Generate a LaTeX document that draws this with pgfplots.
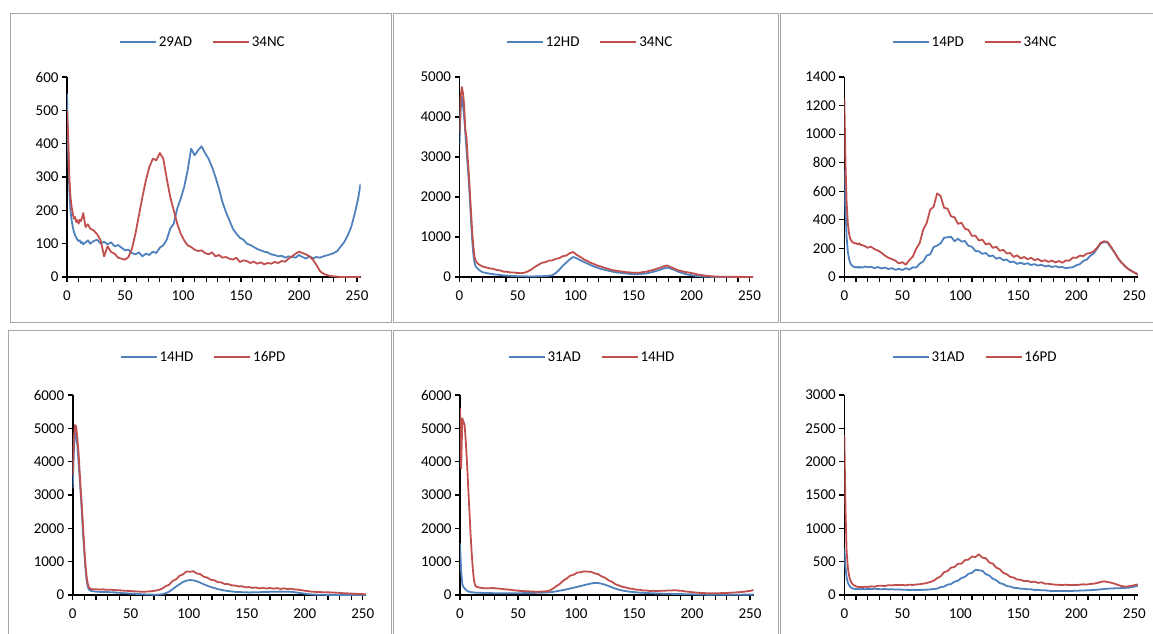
\documentclass[border=0pt]{standalone}
\usepackage{fontspec}
\setmainfont{Carlito}
\usepackage{pgfplots}
\usepackage{pgfplotstable}
\pgfplotsset{compat=1.18}

\definecolor{cblue}{HTML}{4F81BD}
\definecolor{cred}{HTML}{C0504D}
\definecolor{frame}{HTML}{A6A6A6}

% panel 1: 29AD (a) vs 34NC (b)
\pgfplotstableread{
x a b
0 550 500
1 380 420
2 260 300
3 200 240
4 170 210
5 150 190
6 135 175
7 125 180
8 118 165
9 112 170
10 108 160
11 110 172
12 102 168
13 105 178
14 98 192
16 104 150
18 110 158
20 100 145
23 108 140
26 112 128
29 100 110
32 106 62
35 98 92
38 104 75
41 92 70
44 96 58
47 88 55
50 80 52
53 82 60
56 72 85
59 68 130
62 74 185
65 62 240
68 70 290
71 66 330
74 76 355
77 72 350
80 88 372
83 95 355
86 112 295
89 145 240
92 160 200
95 205 160
98 235 130
101 270 110
104 320 95
107 385 90
110 365 82
113 380 78
116 392 80
119 372 72
122 355 68
125 330 74
128 300 62
131 265 66
134 225 58
137 195 60
140 170 55
143 145 52
146 130 58
149 118 45
152 112 50
155 100 48
158 96 42
161 90 46
164 84 40
167 80 44
170 76 38
173 74 42
176 68 40
179 66 45
182 62 42
185 64 48
188 58 46
191 62 55
194 60 62
197 58 70
200 66 76
203 60 72
206 55 68
209 62 62
212 56 52
215 60 36
218 58 18
221 62 10
224 65 6
227 68 3
230 72 2
233 78 1
236 92 0
239 105 0
242 125 0
245 150 0
248 190 0
251 235 0
253 280 0
}\pone

% panel 2: 12HD (a) vs 34NC (b)
\pgfplotstableread{
x a b
0 3300 3600
1 4200 4500
2 4500 4750
3 4300 4600
4 4000 4300
5 3600 3700
6 3200 3500
7 2800 3000
8 2400 2600
9 1900 2100
10 1400 1600
11 900 1100
12 550 750
13 350 500
14 260 400
16 200 330
18 150 290
20 120 260
23 100 240
26 85 215
29 70 205
32 60 175
35 50 165
38 40 135
41 35 130
44 30 115
47 25 112
50 20 98
53 20 96
56 18 108
59 15 142
62 15 188
65 15 252
68 18 305
71 20 355
74 25 372
77 30 410
80 45 415
83 100 455
86 180 470
89 280 520
92 360 535
95 440 595
98 500 625
101 470 555
104 420 505
107 380 445
110 340 405
113 300 355
116 260 325
119 230 285
122 200 262
125 180 228
128 160 205
131 140 178
134 120 162
137 110 148
140 100 137
143 90 122
146 80 117
149 75 108
152 70 106
155 75 108
158 80 122
161 90 133
164 110 157
167 130 178
170 155 207
173 180 232
176 215 268
179 235 290
182 210 248
185 180 212
188 140 172
191 110 152
194 80 128
197 60 117
200 45 98
203 30 82
206 20 58
209 12 47
212 8 33
215 5 26
218 3 17
221 2 12
224 1 8
227 1 6
230 0 5
233 0 4
236 0 4
239 0 3
242 0 3
245 0 3
248 0 2
251 0 2
253 0 2
}\ptwo

% panel 3: 14PD (a) vs 34NC (b)
\pgfplotstableread{
x a b
0 750 1250
1 480 800
2 280 520
3 180 380
4 130 310
5 100 270
6 85 255
7 78 245
8 72 240
9 68 235
10 70 238
11 66 232
12 72 228
13 64 236
14 70 225
16 66 222
18 74 215
20 68 205
23 72 212
26 62 195
29 70 185
32 60 170
35 66 150
38 56 135
41 62 125
44 50 115
47 58 95
50 48 104
53 62 86
56 52 118
59 68 142
62 66 198
65 94 238
68 108 332
71 150 378
74 158 470
77 210 492
80 220 585
83 236 568
86 275 485
89 278 478
92 282 425
95 250 418
98 268 372
101 248 380
104 252 338
107 218 330
110 212 288
113 182 290
116 180 255
119 162 262
122 168 228
125 145 236
128 150 204
131 128 212
134 136 184
137 118 190
140 122 165
143 104 168
146 108 140
149 92 152
152 100 130
155 90 140
158 96 124
161 84 134
164 90 118
167 80 126
170 86 110
173 74 118
176 80 106
179 70 115
182 76 102
185 68 112
188 70 100
191 62 116
194 66 114
197 68 136
200 82 134
203 90 150
206 112 146
209 122 164
212 148 168
215 165 180
218 200 205
221 235 240
224 245 250
227 240 245
230 205 210
233 170 172
236 130 132
239 100 100
242 75 75
245 55 55
248 40 40
251 28 28
253 15 15
}\pthree

% panel 4: 14HD (a) vs 16PD (b)
\pgfplotstableread{
x a b
0 3200 3600
1 4300 4700
2 4900 5100
3 4800 5050
4 4500 4700
5 4000 4300
6 3500 3700
7 3000 3100
8 2400 2600
9 1800 2000
10 1300 1400
11 800 900
12 450 550
13 250 330
14 160 220
16 120 180
18 110 170
20 100 175
23 95 165
26 92 170
29 90 155
32 85 160
35 80 150
38 70 145
41 65 140
44 55 130
47 50 125
50 42 120
53 38 110
56 30 105
59 25 100
62 20 100
65 15 105
68 12 115
71 10 130
74 12 150
77 25 190
80 50 262
83 100 305
86 170 418
89 250 470
92 320 575
95 390 618
98 430 705
101 450 698
104 440 712
107 410 650
110 370 625
113 320 548
116 280 522
119 240 458
122 210 440
125 180 388
128 155 378
131 135 330
134 120 328
137 105 290
140 95 286
143 90 258
146 85 262
149 80 232
152 78 238
155 80 214
158 82 225
161 85 198
164 88 218
167 92 192
170 95 212
173 98 190
176 100 208
179 102 184
182 100 200
185 98 178
188 95 188
191 85 170
194 70 160
197 55 145
200 40 130
203 28 115
206 18 100
209 12 95
212 8 90
215 6 85
218 5 80
221 4 80
224 4 75
227 3 70
230 3 65
233 3 55
236 2 50
239 2 45
242 2 40
245 2 35
248 1 30
251 1 25
253 1 20
}\pfour

% panel 5: 31AD (a) vs 14HD (b)
\pgfplotstableread{
x a b
0 1550 5600
1 700 3800
2 320 5300
3 240 5200
4 200 5100
5 160 4600
6 130 4000
7 110 3300
8 100 2600
9 90 1900
10 85 1300
11 80 800
12 75 450
13 72 300
14 70 250
16 68 230
18 65 215
20 62 205
23 60 200
26 58 205
29 55 210
32 55 195
35 52 190
38 50 175
41 50 165
44 50 155
47 50 140
50 52 130
53 55 120
56 58 115
59 60 110
62 62 105
65 65 100
68 68 100
71 72 105
74 76 110
77 82 130
80 95 190
83 110 262
86 130 335
89 150 428
92 170 495
95 195 582
98 220 610
101 245 672
104 270 682
107 295 712
110 320 700
113 345 695
116 365 650
119 360 628
122 340 560
125 310 518
128 270 442
131 230 398
134 190 322
137 160 286
140 135 244
143 115 226
146 100 194
149 90 185
152 80 160
155 72 155
158 66 136
161 60 134
164 55 120
167 50 126
170 46 116
173 42 128
176 40 126
179 38 138
182 35 136
185 32 144
188 30 132
191 28 128
194 25 108
197 22 98
200 20 85
203 18 75
206 15 65
209 15 60
212 12 55
215 12 50
218 10 50
221 10 55
224 10 55
227 10 60
230 10 62
233 10 68
236 10 75
239 10 80
242 10 90
245 12 100
248 12 115
251 12 130
253 12 150
}\pfive

% panel 6: 31AD (a) vs 16PD (b)
\pgfplotstableread{
x a b
0 700 2400
1 420 1300
2 260 650
3 190 420
4 150 300
5 125 230
6 110 190
7 100 165
8 95 150
9 92 140
10 90 132
11 88 125
12 90 122
13 86 118
14 88 120
16 90 118
18 86 125
20 92 120
23 88 130
26 94 125
29 90 138
32 86 140
35 90 135
38 84 148
41 86 145
44 82 150
47 84 148
50 80 152
53 78 145
56 76 155
59 78 150
62 74 158
65 76 162
68 78 170
71 80 180
74 84 195
77 90 215
80 96 252
83 118 280
86 126 342
89 156 360
92 164 412
95 200 420
98 214 468
101 256 470
104 272 522
107 318 532
110 332 578
113 378 570
116 372 612
119 362 560
122 314 552
125 292 488
128 244 470
131 222 410
134 178 388
137 165 332
140 134 312
143 128 272
146 108 262
149 106 232
152 94 230
155 95 208
158 85 212
161 86 194
164 76 200
167 78 182
170 70 190
173 70 170
176 64 168
179 60 160
182 60 155
185 58 152
188 60 150
191 62 155
194 60 148
197 62 152
200 64 150
203 66 155
206 68 160
209 70 158
212 72 165
215 76 170
218 80 180
221 85 195
224 90 205
227 95 195
230 98 185
233 100 170
236 102 150
239 104 135
242 106 125
245 110 130
248 120 140
251 130 150
253 140 160
}\psix

\pgfplotsset{
  panel/.style={
    scale only axis, width=293.5pt, height=200pt,
    xmin=0, xmax=253, ymin=0,
    axis x line*=bottom, axis y line*=left,
    axis line style={line width=1.6pt, black},
    xtick={0,50,...,250}, minor xtick={10,20,...,240},
    tick align=outside, major tick length=5pt, minor tick length=5pt,
    tick style={black, line width=1.2pt},
    tick label style={font=\fontsize{15}{17}\selectfont},
    xticklabel style={yshift=-5pt},
    /pgf/number format/assume math mode=true,
    /pgf/number format/1000 sep={},
    legend columns=2,
    legend style={draw=none, fill=none, anchor=center,
      font=\fontsize{15}{17}\selectfont,
      /tikz/every even column/.append style={column sep=18pt}},
    legend image code/.code={\draw[#1] (0pt,0pt) -- (36pt,0pt);},
    every axis plot/.append style={line width=1.8pt, line join=round},
  }
}

\begin{document}
\begin{tikzpicture}
\path[use as bounding box] (0pt,0pt) rectangle (1153pt,-633pt);
\draw[frame, line width=0.8pt] (10pt,-13pt) rectangle (391pt,-322pt);
\draw[frame, line width=0.8pt] (393pt,-13pt) rectangle (778pt,-322pt);
\draw[frame, line width=0.8pt] (780pt,-13pt) rectangle (1165pt,-322pt);
\draw[frame, line width=0.8pt] (8pt,-330pt) rectangle (391pt,-645pt);
\draw[frame, line width=0.8pt] (393pt,-330pt) rectangle (778pt,-645pt);
\draw[frame, line width=0.8pt] (780pt,-330pt) rectangle (1165pt,-645pt);

\begin{axis}[panel, at={(67pt,-277pt)}, anchor=south west,
  ymax=600, ytick={0,100,...,600}, legend style={at={(0.463,1.175)}}]
\addplot[cblue] table[x=x, y=a] {\pone}; \addlegendentry{29AD}
\addplot[cred] table[x=x, y=b] {\pone}; \addlegendentry{34NC}
\end{axis}

\begin{axis}[panel, at={(459.5pt,-277pt)}, anchor=south west,
  ymax=5000, ytick={0,1000,...,5000}, legend style={at={(0.445,1.175)}}]
\addplot[cblue] table[x=x, y=a] {\ptwo}; \addlegendentry{12HD}
\addplot[cred] table[x=x, y=b] {\ptwo}; \addlegendentry{34NC}
\end{axis}

\begin{axis}[panel, at={(844.3pt,-277pt)}, anchor=south west,
  ymax=1400, ytick={0,200,...,1400}, legend style={at={(0.446,1.175)}}]
\addplot[cblue] table[x=x, y=a] {\pthree}; \addlegendentry{14PD}
\addplot[cred] table[x=x, y=b] {\pthree}; \addlegendentry{34NC}
\end{axis}

\begin{axis}[panel, at={(72.7pt,-595pt)}, anchor=south west,
  ymax=6000, ytick={0,1000,...,6000}, legend style={at={(0.446,1.19)}}]
\addplot[cblue] table[x=x, y=a] {\pfour}; \addlegendentry{14HD}
\addplot[cred] table[x=x, y=b] {\pfour}; \addlegendentry{16PD}
\end{axis}

\begin{axis}[panel, at={(460pt,-595pt)}, anchor=south west,
  ymax=6000, ytick={0,1000,...,6000}, legend style={at={(0.45,1.19)}}]
\addplot[cblue] table[x=x, y=a] {\pfive}; \addlegendentry{31AD}
\addplot[cred] table[x=x, y=b] {\pfive}; \addlegendentry{14HD}
\end{axis}

\begin{axis}[panel, at={(844.3pt,-595pt)}, anchor=south west,
  ymax=3000, ytick={0,500,...,3000}, legend style={at={(0.446,1.19)}}]
\addplot[cblue] table[x=x, y=a] {\psix}; \addlegendentry{31AD}
\addplot[cred] table[x=x, y=b] {\psix}; \addlegendentry{16PD}
\end{axis}
\end{tikzpicture}
\end{document}
